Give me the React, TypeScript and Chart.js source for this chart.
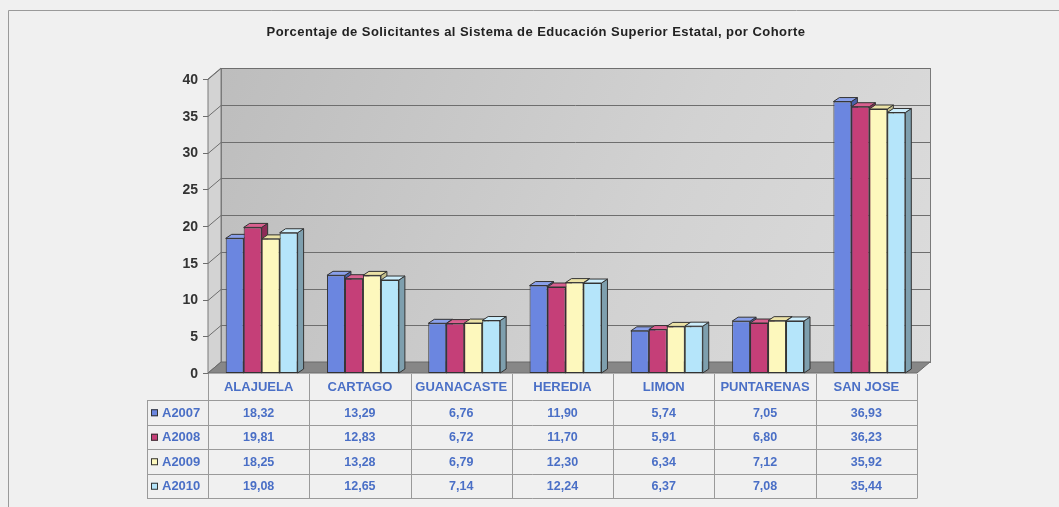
import React, { useEffect, useRef } from "react";
import { Chart, registerables } from "chart.js";

Chart.register(...registerables);

const categories = ["ALAJUELA", "CARTAGO", "GUANACASTE", "HEREDIA", "LIMON", "PUNTARENAS", "SAN JOSE"];
const seriesNames = ["A2007", "A2008", "A2009", "A2010"];
const a2007 = [18.32, 13.29, 6.76, 11.9, 5.74, 7.05, 36.93];
const a2008 = [19.81, 12.83, 6.72, 11.7, 5.91, 6.8, 36.23];
const a2009 = [18.25, 13.28, 6.79, 12.3, 6.34, 7.12, 35.92];
const a2010 = [19.08, 12.65, 7.14, 12.24, 6.37, 7.08, 35.44];
const yTicks = [0, 5, 10, 15, 20, 25, 30, 35, 40];
const titleText = "Porcentaje de Solicitantes al Sistema de Educación Superior Estatal, por Cohorte";

const seriesValues = [a2007, a2008, a2009, a2010];
const frontColors = ["#6b86e0", "#c53f78", "#fdf8bd", "#b5e5fa"];
const topColors = ["#8aa0ea", "#d9608f", "#ebe2a6", "#cdeefc"];
const sideColors = ["#4a60a8", "#8e2b57", "#c4be8c", "#7e9fae"];

const W = 1059;
const H = 507;
const OFF = 3;
const DX = 13;
const DY = -11;
const BDX = 6;
const BDY = -4;
const FONT = "'Liberation Sans', Arial, sans-serif";
const BLUE = "#4a6fc6";

function fmt(v: number) {
  return v.toFixed(2).replace(".", ",");
}

const deco = {
  id: "deco3d",
  beforeDraw(chart: any) {
    const { ctx, chartArea } = chart;
    const left = chartArea.left - OFF;
    const right = chartArea.right - OFF;
    const bottom = chartArea.bottom;
    const y = chart.scales.y;
    ctx.save();
    ctx.fillStyle = "#f0f0f0";
    ctx.fillRect(0, 0, W, H);
    // frame
    ctx.strokeStyle = "#9a9a9a";
    ctx.lineWidth = 1;
    ctx.beginPath();
    ctx.moveTo(8.5, H);
    ctx.lineTo(8.5, 10.5);
    ctx.lineTo(W, 10.5);
    ctx.stroke();
    // title
    ctx.fillStyle = "#222";
    ctx.font = `bold 13px ${FONT}`;
    (ctx as any).letterSpacing = "0.45px";
    ctx.textAlign = "center";
    ctx.textBaseline = "middle";
    ctx.fillText(titleText, 536, 32);
    (ctx as any).letterSpacing = "0px";

    const wallTop = y.getPixelForValue(40);
    // left wall
    ctx.fillStyle = "#d3d3d3";
    ctx.strokeStyle = "#7a7a7a";
    ctx.beginPath();
    ctx.moveTo(left, bottom);
    ctx.lineTo(left, wallTop);
    ctx.lineTo(left + DX, wallTop + DY);
    ctx.lineTo(left + DX, bottom + DY);
    ctx.closePath();
    ctx.fill();
    ctx.stroke();
    // back wall
    const g = ctx.createLinearGradient(left + DX, wallTop + DY, right + DX, bottom + DY);
    g.addColorStop(0, "#bdbdbd");
    g.addColorStop(0.6, "#d2d2d2");
    g.addColorStop(1, "#dcdcdc");
    ctx.fillStyle = g;
    ctx.fillRect(left + DX, wallTop + DY, right - left, bottom - wallTop);
    ctx.strokeRect(left + DX + 0.5, wallTop + DY + 0.5, right - left, bottom - wallTop);
    // grid lines
    ctx.strokeStyle = "#6e6e6e";
    yTicks.forEach((t) => {
      const py = Math.round(y.getPixelForValue(t)) + 0.5;
      ctx.beginPath();
      ctx.moveTo(left - 5, py);
      ctx.lineTo(left, py);
      ctx.lineTo(left + DX, py + DY);
      if (t > 0) ctx.lineTo(right + DX, py + DY);
      ctx.stroke();
    });
    // floor
    ctx.fillStyle = "#878787";
    ctx.strokeStyle = "#6a6a6a";
    ctx.beginPath();
    ctx.moveTo(left, bottom);
    ctx.lineTo(right, bottom);
    ctx.lineTo(right + DX, bottom + DY);
    ctx.lineTo(left + DX, bottom + DY);
    ctx.closePath();
    ctx.fill();
    ctx.stroke();
    // y labels
    ctx.fillStyle = "#333";
    ctx.font = `bold 14px ${FONT}`;
    ctx.textAlign = "right";
    yTicks.forEach((t) => {
      ctx.fillText(String(t), left - 10, y.getPixelForValue(t) + 1);
    });
    ctx.restore();
  },
  beforeDatasetsDraw(chart: any) {
    const { ctx } = chart;
    ctx.save();
    ctx.lineWidth = 1;
    ctx.strokeStyle = "#333";
    const n = chart.data.labels.length;
    for (let c = 0; c < n; c++) {
      for (let d = 0; d < chart.data.datasets.length; d++) {
        const bar = chart.getDatasetMeta(d).data[c];
        const { x, y, base, width } = bar.getProps(["x", "y", "base", "width"], true);
        const l = x - width / 2;
        const r = x + width / 2;
        ctx.fillStyle = sideColors[d];
        ctx.beginPath();
        ctx.moveTo(r, y);
        ctx.lineTo(r + BDX, y + BDY);
        ctx.lineTo(r + BDX, base + BDY);
        ctx.lineTo(r, base);
        ctx.closePath();
        ctx.fill();
        ctx.stroke();
        ctx.fillStyle = topColors[d];
        ctx.beginPath();
        ctx.moveTo(l, y);
        ctx.lineTo(l + BDX, y + BDY);
        ctx.lineTo(r + BDX, y + BDY);
        ctx.lineTo(r, y);
        ctx.closePath();
        ctx.fill();
        ctx.stroke();
      }
    }
    ctx.restore();
  },
  afterDraw(chart: any) {
    const { ctx, chartArea } = chart;
    const left = chartArea.left - OFF;
    const right = chartArea.right - OFF;
    const bottom = chartArea.bottom;
    const xs = chart.scales.x;
    const tableLeft = 147;
    const rowTop = 400;
    const rowH = 24.5;
    const tableBottom = rowTop + rowH * seriesNames.length;
    const colW = (right - left) / categories.length;
    ctx.save();
    ctx.strokeStyle = "#9a9a9a";
    ctx.lineWidth = 1;
    for (let i = 0; i <= categories.length; i++) {
      const px = Math.round(left + i * colW) + 0.5;
      ctx.beginPath();
      ctx.moveTo(px, bottom + 1);
      ctx.lineTo(px, tableBottom);
      ctx.stroke();
    }
    ctx.beginPath();
    ctx.moveTo(tableLeft + 0.5, rowTop);
    ctx.lineTo(tableLeft + 0.5, tableBottom);
    ctx.stroke();
    for (let r = 0; r <= seriesNames.length; r++) {
      const py = Math.round(rowTop + r * rowH) + 0.5;
      ctx.beginPath();
      ctx.moveTo(tableLeft, py);
      ctx.lineTo(right + 0.5, py);
      ctx.stroke();
    }
    ctx.fillStyle = BLUE;
    ctx.font = `bold 13px ${FONT}`;
    ctx.textAlign = "center";
    ctx.textBaseline = "middle";
    categories.forEach((c, i) => {
      ctx.fillText(c, xs.getPixelForValue(i) - OFF, (bottom + rowTop) / 2 + 1);
    });
    seriesNames.forEach((s, r) => {
      const cy = rowTop + r * rowH + rowH / 2 + 1;
      ctx.fillStyle = frontColors[r];
      ctx.fillRect(151, cy - 4, 7, 7);
      ctx.strokeStyle = "#333";
      ctx.strokeRect(151.5, cy - 3.5, 6, 6);
      ctx.fillStyle = BLUE;
      ctx.textAlign = "left";
      ctx.font = `bold 13px ${FONT}`;
      ctx.fillText(s, 162, cy);
      ctx.textAlign = "center";
      ctx.font = `bold 12.5px ${FONT}`;
      seriesValues[r].forEach((v, i) => {
        ctx.fillText(fmt(v), xs.getPixelForValue(i) - OFF, cy);
      });
    });
    ctx.restore();
  },
};

export default function App() {
  const ref = useRef<HTMLCanvasElement>(null);
  useEffect(() => {
    if (!ref.current) return;
    const chart = new Chart(ref.current, {
      type: "bar",
      data: {
        labels: categories,
        datasets: seriesNames.map((name, i) => ({
          label: name,
          data: seriesValues[i],
          backgroundColor: frontColors[i],
          borderColor: "#333",
          borderWidth: 1,
          borderSkipped: false,
          categoryPercentage: 0.71,
          barPercentage: 1,
        })),
      },
      options: {
        animation: false,
        responsive: false,
        devicePixelRatio: 1,
        layout: { padding: { left: 208 + OFF, right: W - 917 - OFF, top: 79, bottom: H - 373 } },
        scales: {
          x: { display: false },
          y: { display: false, min: 0, max: 40 },
        },
        plugins: {
          legend: { display: false },
          title: { display: false },
          tooltip: { enabled: false },
        },
      },
      plugins: [deco],
    });
    return () => chart.destroy();
  }, []);
  return (
    <canvas
      ref={ref}
      width={W}
      height={H}
      style={{ position: "absolute", left: 0, top: 0, display: "block", width: W, height: H }}
    />
  );
}
